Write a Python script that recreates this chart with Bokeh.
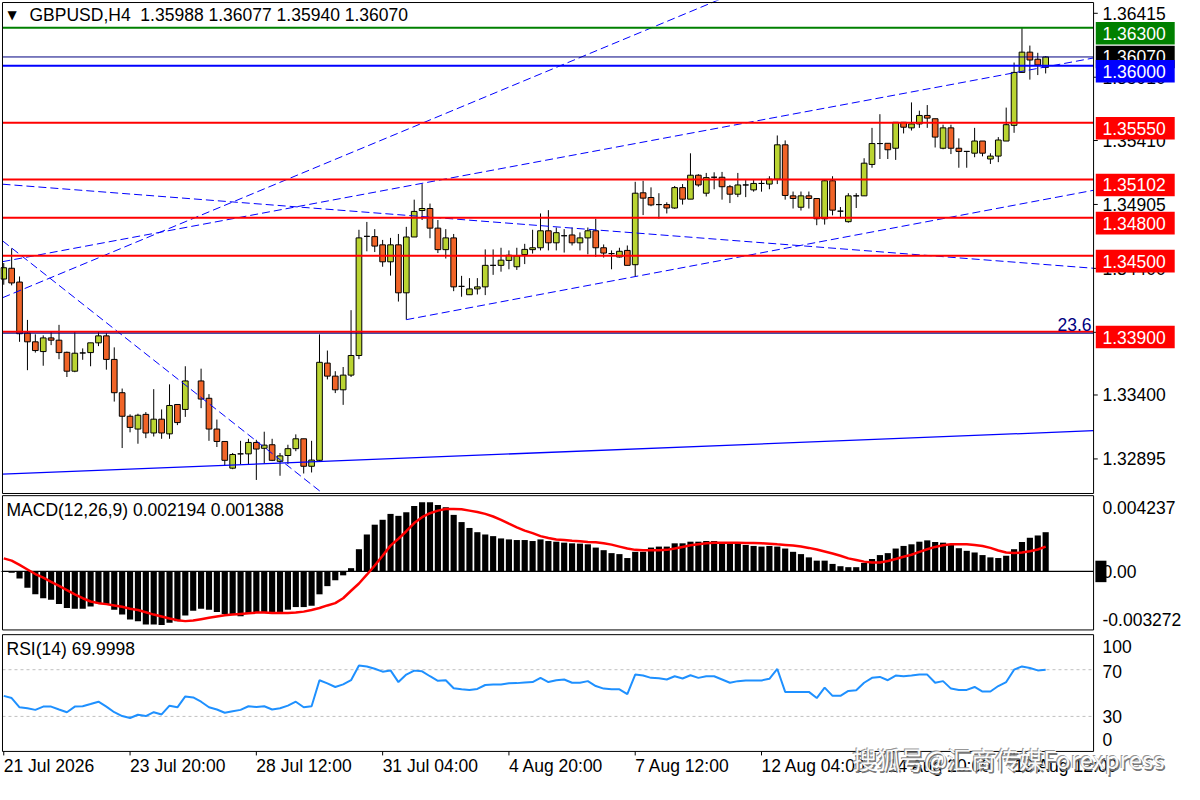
import numpy as np
from bokeh.plotting import figure
from bokeh.layouts import column
from bokeh.models import Range1d, Label, ColumnDataSource
from bokeh.core.properties import value
from bokeh.embed import file_html
from bokeh.resources import INLINE

nan = float("nan")

# GBPUSD H4 candles (bar 24 is not drawn in the source picture)
opens = [
    1.34316, 1.34401, 1.34292, 1.33890, 1.33820, 1.33743, 1.33851, 1.33833, 1.33737, 1.33588,
    1.33732, 1.33735, 1.33812, 1.33867, 1.33681, 1.33418, 1.33232, 1.33131, 1.33247, 1.33100,
    1.33209, 1.33093, 1.33325, 1.33286, nan, 1.33511, 1.33374, 1.33131, 1.33033, 1.32822,
    1.32935, 1.32935, 1.33025, 1.32979, 1.33007, 1.32876, 1.32922, 1.32976, 1.33054, 1.32837,
    1.32884, 1.33652, 1.33549, 1.33441, 1.33557, 1.33712, 1.34653, 1.34651, 1.34586, 1.34452,
    1.34586, 1.34207, 1.34648, 1.34857, 1.34873, 1.34718, 1.34548, 1.34641, 1.34258, 1.34192,
    1.34238, 1.34254, 1.34424, 1.34424, 1.34463, 1.34413, 1.34509, 1.34548, 1.34563, 1.34697,
    1.34602, 1.34658, 1.34664, 1.34602, 1.34641, 1.34697, 1.34563, 1.34517, 1.34490, 1.34542,
    1.34429, 1.34997, 1.34960, 1.34904, 1.34904, 1.34877, 1.35038, 1.34947, 1.35136, 1.34994,
    1.35120, 1.35120, 1.35045, 1.34986, 1.35059, 1.35020, 1.35071, 1.35066, 1.35105, 1.35376,
    1.34973, 1.34883, 1.34973, 1.34952, 1.34792, 1.35092, 1.34852, 1.34769, 1.34973, 1.34973,
    1.35221, 1.35386, 1.35388, 1.35349, 1.35554, 1.35510, 1.35541, 1.35608, 1.35582, 1.35349,
    1.35510, 1.35349, 1.35324, 1.35310, 1.35406, 1.35264, 1.35287, 1.35406, 1.35530, 1.35948,
    1.36108, 1.36052, 1.35988,
]
highs = [
    1.34442, 1.34558, 1.34336, 1.33993, 1.33879, 1.33871, 1.33898, 1.33954, 1.33743, 1.33898,
    1.33768, 1.33812, 1.33905, 1.33890, 1.33776, 1.33451, 1.33247, 1.33252, 1.33265, 1.33446,
    1.33286, 1.33484, 1.33325, 1.33627, nan, 1.33608, 1.33407, 1.33206, 1.33033, 1.32942,
    1.33038, 1.33054, 1.33046, 1.33110, 1.33054, 1.32942, 1.33007, 1.33089, 1.33054, 1.33038,
    1.33879, 1.33751, 1.33588, 1.33621, 1.34070, 1.34705, 1.34767, 1.34710, 1.34625, 1.34641,
    1.34672, 1.34728, 1.34943, 1.35066, 1.34912, 1.34782, 1.34710, 1.34672, 1.34341, 1.34323,
    1.34323, 1.34550, 1.34550, 1.34563, 1.34542, 1.34563, 1.34594, 1.34705, 1.34834, 1.34860,
    1.34723, 1.34710, 1.34723, 1.34684, 1.34723, 1.34792, 1.34589, 1.34542, 1.34563, 1.34581,
    1.35084, 1.35092, 1.35040, 1.34994, 1.34922, 1.35051, 1.35066, 1.35309, 1.35144, 1.35154,
    1.35159, 1.35162, 1.35059, 1.35154, 1.35097, 1.35097, 1.35097, 1.35128, 1.35450, 1.35411,
    1.35007, 1.35007, 1.35007, 1.34952, 1.35102, 1.35128, 1.34885, 1.34994, 1.34994, 1.35270,
    1.35510, 1.35618, 1.35388, 1.35554, 1.35554, 1.35711, 1.35646, 1.35690, 1.35582, 1.35535,
    1.35535, 1.35427, 1.35324, 1.35510, 1.35406, 1.35309, 1.35437, 1.35670, 1.36026, 1.36304,
    1.36160, 1.36103, 1.36077,
]
lows = [
    1.34271, 1.34266, 1.33820, 1.33596, 1.33735, 1.33631, 1.33794, 1.33683, 1.33542, 1.33580,
    1.33678, 1.33627, 1.33786, 1.33600, 1.33348, 1.32981, 1.33105, 1.33015, 1.33059, 1.33072,
    1.33054, 1.33054, 1.33162, 1.33227, nan, 1.33296, 1.33038, 1.32989, 1.32840, 1.32814,
    1.32853, 1.32853, 1.32729, 1.32857, 1.32878, 1.32762, 1.32853, 1.32956, 1.32780, 1.32788,
    1.32878, 1.33523, 1.33415, 1.33322, 1.33542, 1.33683, 1.34535, 1.34529, 1.34413, 1.34343,
    1.34138, 1.33995, 1.34648, 1.34782, 1.34638, 1.34521, 1.34478, 1.34220, 1.34176, 1.34192,
    1.34194, 1.34189, 1.34349, 1.34374, 1.34393, 1.34388, 1.34434, 1.34517, 1.34542, 1.34542,
    1.34542, 1.34525, 1.34581, 1.34542, 1.34511, 1.34490, 1.34486, 1.34393, 1.34486, 1.34424,
    1.34336, 1.34821, 1.34891, 1.34792, 1.34834, 1.34870, 1.34904, 1.34947, 1.35045, 1.34968,
    1.35025, 1.34943, 1.34916, 1.34963, 1.34963, 1.35006, 1.35006, 1.35025, 1.35066, 1.34943,
    1.34873, 1.34857, 1.34873, 1.34741, 1.34746, 1.34819, 1.34800, 1.34761, 1.34877, 1.34973,
    1.35195, 1.35264, 1.35264, 1.35257, 1.35466, 1.35489, 1.35510, 1.35510, 1.35355, 1.35341,
    1.35303, 1.35195, 1.35195, 1.35278, 1.35285, 1.35225, 1.35239, 1.35406, 1.35471, 1.35948,
    1.35891, 1.35927, 1.35940,
]
closes = [
    1.34405, 1.34285, 1.33884, 1.33820, 1.33751, 1.33851, 1.33833, 1.33735, 1.33588, 1.33730,
    1.33732, 1.33812, 1.33867, 1.33681, 1.33418, 1.33232, 1.33144, 1.33240, 1.33100, 1.33209,
    1.33100, 1.33317, 1.33182, 1.33511, nan, 1.33368, 1.33131, 1.33033, 1.32884, 1.32930,
    1.32935, 1.33025, 1.32973, 1.33004, 1.32884, 1.32919, 1.32976, 1.33054, 1.32837, 1.32886,
    1.33658, 1.33549, 1.33441, 1.33557, 1.33712, 1.34641, 1.34653, 1.34576, 1.34452, 1.34586,
    1.34207, 1.34648, 1.34850, 1.34873, 1.34718, 1.34548, 1.34641, 1.34254, 1.34258, 1.34238,
    1.34254, 1.34424, 1.34424, 1.34465, 1.34504, 1.34498, 1.34550, 1.34563, 1.34697, 1.34602,
    1.34682, 1.34658, 1.34602, 1.34641, 1.34697, 1.34563, 1.34521, 1.34517, 1.34535, 1.34424,
    1.34994, 1.34955, 1.34901, 1.34904, 1.34877, 1.35038, 1.34947, 1.35136, 1.35059, 1.35117,
    1.35120, 1.35045, 1.34986, 1.35059, 1.35059, 1.35071, 1.35071, 1.35105, 1.35376, 1.34976,
    1.34952, 1.34973, 1.34952, 1.34792, 1.35092, 1.34860, 1.34852, 1.34973, 1.34973, 1.35231,
    1.35386, 1.35386, 1.35337, 1.35554, 1.35515, 1.35541, 1.35608, 1.35587, 1.35437, 1.35510,
    1.35349, 1.35324, 1.35324, 1.35406, 1.35310, 1.35287, 1.35414, 1.35535, 1.35948, 1.36108,
    1.36046, 1.36007, 1.36070,
]

# MACD(12,26,9): main (histogram) and signal
macd_main = [
    -0.000037, -0.000073, -0.000402, -0.000914, -0.001280, -0.001499, -0.001590, -0.001828, -0.002047, -0.002084,
    -0.002084, -0.001956, -0.001773, -0.001828, -0.002139, -0.002413, -0.002687, -0.002779, -0.002961, -0.002961,
    -0.002998, -0.002870, -0.002779, -0.002468, -0.002194, -0.002084, -0.002139, -0.002267, -0.002376, -0.002376,
    -0.002504, -0.002376, -0.002322, -0.002285, -0.002285, -0.002267, -0.002139, -0.001993, -0.001993, -0.001919,
    -0.001280, -0.000823, -0.000494, -0.000219, 0.000183, 0.001243, 0.002066, 0.002614, 0.002888, 0.003217,
    0.003108, 0.003309, 0.003656, 0.003875, 0.003875, 0.003711, 0.003583, 0.003162, 0.002760, 0.002431,
    0.002194, 0.002066, 0.001974, 0.001846, 0.001791, 0.001755, 0.001755, 0.001700, 0.001791, 0.001700,
    0.001663, 0.001609, 0.001572, 0.001554, 0.001517, 0.001334, 0.001188, 0.001024, 0.000969, 0.000749,
    0.001097, 0.001097, 0.001334, 0.001389, 0.001389, 0.001572, 0.001572, 0.001663, 0.001663, 0.001700,
    0.001700, 0.001645, 0.001609, 0.001572, 0.001481, 0.001426, 0.001389, 0.001426, 0.001389, 0.001280,
    0.001097, 0.000969, 0.000786, 0.000603, 0.000603, 0.000420, 0.000292, 0.000238, 0.000238, 0.000475,
    0.000695, 0.000914, 0.001024, 0.001280, 0.001426, 0.001517, 0.001663, 0.001737, 0.001645, 0.001609,
    0.001517, 0.001298, 0.001152, 0.001060, 0.000914, 0.000786, 0.000749, 0.000877, 0.001243, 0.001645,
    0.001883, 0.002011, 0.002194,
]
macd_signal = [
    0.000731, 0.000603, 0.000366, 0.000110, -0.000146, -0.000347, -0.000585, -0.000804, -0.001042, -0.001280,
    -0.001499, -0.001682, -0.001773, -0.001828, -0.001901, -0.001974, -0.002084, -0.002157, -0.002285, -0.002413,
    -0.002523, -0.002632, -0.002724, -0.002779, -0.002742, -0.002669, -0.002596, -0.002523, -0.002450, -0.002413,
    -0.002376, -0.002340, -0.002303, -0.002303, -0.002322, -0.002322, -0.002322, -0.002303, -0.002248, -0.002157,
    -0.002047, -0.001901, -0.001773, -0.001499, -0.001079, -0.000676, -0.000183, 0.000329, 0.000877, 0.001444,
    0.001828, 0.002248, 0.002705, 0.003034, 0.003254, 0.003400, 0.003491, 0.003491, 0.003473, 0.003400,
    0.003327, 0.003217, 0.003071, 0.002888, 0.002669, 0.002468, 0.002285, 0.002139, 0.001974, 0.001865,
    0.001791, 0.001755, 0.001718, 0.001682, 0.001645, 0.001627, 0.001572, 0.001499, 0.001389, 0.001280,
    0.001206, 0.001188, 0.001188, 0.001188, 0.001206, 0.001280, 0.001371, 0.001462, 0.001517, 0.001572,
    0.001609, 0.001609, 0.001609, 0.001609, 0.001590, 0.001590, 0.001572, 0.001554, 0.001517, 0.001481,
    0.001444, 0.001389, 0.001316, 0.001225, 0.001115, 0.001005, 0.000877, 0.000731, 0.000640, 0.000548,
    0.000494, 0.000494, 0.000585, 0.000695, 0.000823, 0.000932, 0.001097, 0.001243, 0.001371, 0.001462,
    0.001517, 0.001517, 0.001517, 0.001481, 0.001426, 0.001316, 0.001170, 0.001060, 0.001024, 0.001060,
    0.001133, 0.001225, 0.001388,
]

# RSI(14)
rsi = [
    47.6, 45.7, 37.8, 37.0, 35.6, 38.4, 38.4, 35.9, 33.6, 38.4,
    38.7, 40.6, 42.6, 38.4, 33.6, 30.3, 28.6, 31.4, 30.3, 33.6,
    31.7, 39.2, 37.8, 47.1, 46.2, 42.6, 37.8, 35.9, 33.1, 34.5,
    35.6, 38.7, 38.1, 38.7, 35.9, 37.0, 39.2, 42.6, 37.8, 38.7,
    61.0, 58.3, 55.2, 57.4, 61.0, 73.6, 72.8, 70.8, 68.3, 69.4,
    59.4, 65.8, 69.2, 68.6, 64.4, 60.5, 61.0, 54.1, 53.2, 52.7,
    53.5, 56.9, 57.4, 57.4, 58.3, 58.5, 59.1, 59.4, 63.0, 59.4,
    61.0, 61.6, 58.8, 58.8, 60.2, 56.0, 53.8, 53.2, 53.2, 49.0,
    65.8, 65.0, 63.0, 62.7, 61.6, 64.4, 62.5, 65.2, 63.0, 64.4,
    64.4, 61.6, 58.8, 60.2, 60.8, 60.8, 60.8, 62.2, 70.6, 51.0,
    51.0, 51.0, 51.0, 45.7, 54.6, 47.6, 47.6, 51.8, 52.4, 58.8,
    63.0, 63.8, 61.0, 65.0, 64.4, 65.0, 65.8, 65.8, 58.8, 60.2,
    53.8, 52.7, 52.7, 55.2, 51.3, 51.3, 56.0, 59.4, 70.0, 72.8,
    71.4, 69.4, 69.9998,
]

# panel bounds (bar index / value at the chart borders)
chart_left, chart_right = -0.16, 138.07
price_top, price_bottom = 1.36500, 1.32622
macd_top, macd_bottom = 0.004237, -0.003272
rsi_top, rsi_bottom = 100, 0

# horizontal levels drawn on the chart
level_prices = [1.36300, 1.36070, 1.36000, 1.35550, 1.35102, 1.34800, 1.34500, 1.33900, 1.33888]
level_colors = ["#008000", "#000080", "#0000ff", "#ff0000", "#ff0000", "#ff0000", "#ff0000", "#ff0000", "#000080"]
level_widths = [2, 1, 2, 2, 2, 2, 2, 2, 1]

# price tags on the right scale; the bid tag is centred on its line, the others hang below it
tag_prices = [1.36300, 1.36070, 1.36000, 1.35550, 1.35102, 1.34800, 1.34500, 1.33900]
tag_colors = ["#008000", "#000000", "#0000ff", "#ff0000", "#ff0000", "#ff0000", "#ff0000", "#ff0000"]
tag_centred = [False, True, False, False, False, False, False, False]

# trend lines (bar index, price)
trend_x0 = [chart_left, chart_left, chart_left, chart_left, 51]
trend_y0 = [1.34168, 1.34453, 1.35065, 1.34618, 1.33995]
trend_x1 = [93, chart_right, chart_right, 40.43, chart_right]
trend_y1 = [1.36584, 1.36062, 1.34401, 1.32622, 1.35017]
base_x0, base_y0, base_x1, base_y1 = [chart_left], [1.32775], [chart_right], [1.33118]

price_ticks = [1.36415, 1.35910, 1.35410, 1.34905, 1.34400, 1.33895, 1.33400, 1.32895]
macd_label_pos = [0.003563, 0.0, -0.002686]
macd_label_text = ["0.004237", "0.00", "-0.003272"]
rsi_levels = [70, 30]
rsi_label_pos = [89.5, 68.8, 30, 9.8]
rsi_label_text = ["100", "70", "30", "0"]
x_tick_bars = [0, 16, 32, 48, 64, 80, 96, 112, 128]
x_tick_labels = ["21 Jul 2026", "23 Jul 20:00", "28 Jul 12:00", "31 Jul 04:00", "4 Aug 20:00",
                 "7 Aug 12:00", "12 Aug 04:00", "14 Aug 20:00", "19 Aug 12:00"]

FONT = "Liberation Sans"
FS = "17.5px"
BULL = "#bad432"
BEAR = "#f06428"
SCALE_X = 139.2          # where the right-hand scale text starts (bar units)
TICK_END = 138.6
TAG_X, TAG_W = 143.35, 10.0

o = np.array(opens)
h = np.array(highs)
l = np.array(lows)
c = np.array(closes)
idx = np.arange(len(o))
src = ColumnDataSource(dict(
    x=idx, high=h, low=l,
    top=np.maximum(o, c), bottom=np.minimum(o, c),
    color=np.where(c >= o, BULL, BEAR),
))

xr = Range1d(-0.413, 149.59)
W = 1184


def panel(height, y0, y1):
    p = figure(width=W, height=height, x_range=xr, y_range=Range1d(y0, y1),
               output_backend="svg", toolbar_location=None,
               x_axis_location=None, y_axis_location=None,
               min_border_left=0, min_border_right=0, min_border_top=0, min_border_bottom=0)
    p.outline_line_color = None
    p.grid.visible = False
    p.background_fill_color = "white"
    p.border_fill_color = "white"
    return p


def border(p, top, bottom):
    p.quad(left=[chart_left], right=[chart_right], top=[top], bottom=[bottom],
           fill_color=None, line_color="black", line_width=1)


def scale_text(p, ys, texts, color="black"):
    p.text(x=[SCALE_X] * len(ys), y=ys, text=texts, text_font=value(FONT),
           text_font_size=value(FS), text_color=color, text_baseline="middle", text_align="left")


def title(p, text, x, y):
    p.add_layout(Label(x=x, y=y, x_units="screen", y_units="screen", text=text,
                       text_font=FONT, text_font_size=FS, text_color="black",
                       text_baseline="middle"))


# ---- price panel
p1 = panel(494, 1.32614, 1.36516)
p1.segment(x0="x", y0="high", x1="x", y1="low", source=src, line_color="black", line_width=1)
p1.vbar(x="x", width=0.72, top="top", bottom="bottom", source=src,
        fill_color="color", line_color="black", line_width=1)
p1.segment(x0=trend_x0, y0=trend_y0, x1=trend_x1, y1=trend_y1,
           line_color="#0000ff", line_width=1, line_dash="8 4")
p1.segment(x0=base_x0, y0=base_y0, x1=base_x1, y1=base_y1, line_color="#0000ff", line_width=1.3)
p1.segment(x0=[chart_left] * len(level_prices), y0=level_prices,
           x1=[chart_right] * len(level_prices), y1=level_prices,
           line_color=level_colors, line_width=level_widths)
border(p1, price_top, price_bottom)

p1.segment(x0=[chart_right] * len(price_ticks), y0=price_ticks,
           x1=[TICK_END] * len(price_ticks), y1=price_ticks, line_color="black")
scale_text(p1, price_ticks, [f"{v:.5f}" for v in price_ticks])

TAG_H = 0.00178
for price, col, centred in zip(tag_prices, tag_colors, tag_centred):
    yc = price if centred else price - 0.000426
    p1.rect(x=[TAG_X], y=[yc], width=TAG_W, height=TAG_H, fill_color=col, line_color=None)
    scale_text(p1, [yc], [f"{price:.5f}"], color="white")

p1.add_layout(Label(x=chart_right, y=1.33900, text="23.6", text_align="right", text_baseline="bottom",
                    x_offset=-2, y_offset=1, text_font=FONT, text_font_size=FS, text_color="#000080"))
p1.add_layout(Label(x=7, y=494 - 14.5, x_units="screen", y_units="screen", text="\u25bc",
                    text_font="DejaVu Sans", text_font_size="12px", text_color="black",
                    text_baseline="middle"))
title(p1, "GBPUSD,H4\u00a0 1.35988 1.36077 1.35940 1.36070", 29, 494 - 14.5)

# ---- MACD panel
p2 = panel(138, -0.003415, 0.004302)
p2.vbar(x=idx, top=macd_main, bottom=0, width=0.78, fill_color="black", line_color=None)
p2.segment(x0=[chart_left], y0=[0], x1=[chart_right], y1=[0], line_color="black", line_width=1.2)
p2.line(idx, macd_signal, line_color="#ff0000", line_width=2.5)
border(p2, macd_top, macd_bottom)
p2.rect(x=[139.0], y=[0], width=1.4, height=0.0012, fill_color="black", line_color=None)
scale_text(p2, macd_label_pos, macd_label_text)
title(p2, "MACD(12,26,9) 0.002194 0.001388", 6, 138 - 15.2)

# ---- RSI panel with the time scale below it
p3 = panel(150, -26.6, 101.85)
p3.segment(x0=[chart_left] * 2, y0=rsi_levels, x1=[chart_right] * 2, y1=rsi_levels,
           line_color="#c0c0c0", line_width=1, line_dash="3 3")
p3.line(idx, rsi, line_color="#1e90ff", line_width=2)
border(p3, rsi_top, rsi_bottom)
scale_text(p3, rsi_label_pos, rsi_label_text)
title(p3, "RSI(14) 69.9998", 6, 150 - 16.4)

p3.segment(x0=x_tick_bars, y0=[rsi_bottom] * len(x_tick_bars), x1=x_tick_bars,
           y1=[-3.4] * len(x_tick_bars), line_color="black")
p3.text(x=x_tick_bars, y=[-12.5] * len(x_tick_bars), text=x_tick_labels, text_font=value(FONT),
        text_font_size=value(FS), text_color="black", text_baseline="middle", text_align="left")

# watermark
wm = "搜狐号@汇商传媒Forexpress"
for dx, dy, col in [(1.5, -1.5, "#6e6e6e"), (-1, 1, "#909090"), (0, 0, "white")]:
    p3.add_layout(Label(x=852, y=-6.3, x_units="screen", y_units="data", x_offset=dx, y_offset=dy,
                        text=wm, text_font="Noto Sans CJK SC", text_font_size="24px",
                        text_color=col, text_alpha=0.95, text_baseline="middle"))

layout = column(p1, p2, p3, spacing=0)
open("out.html", "w").write(file_html(layout, INLINE))
